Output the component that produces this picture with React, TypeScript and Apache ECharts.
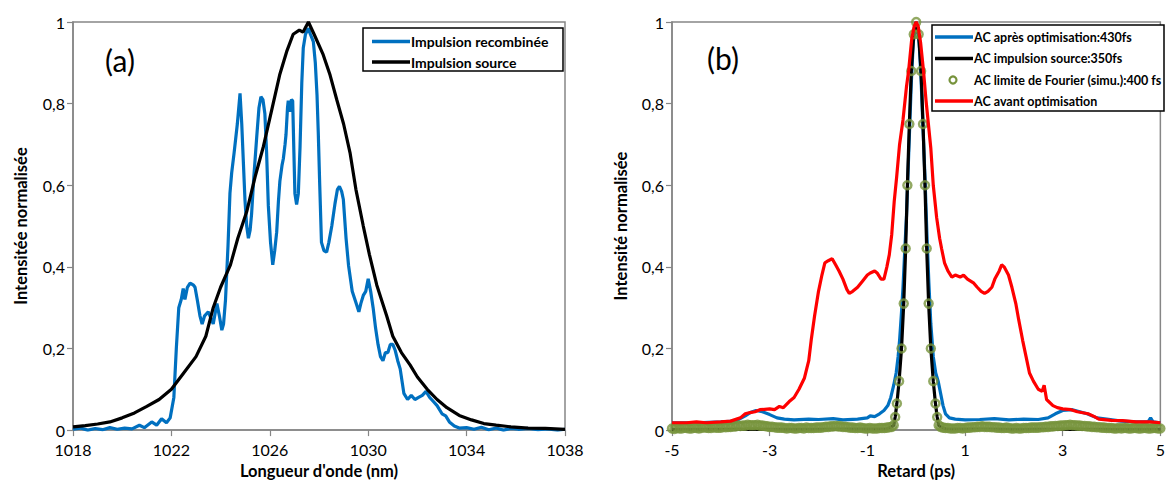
import React, { useEffect, useRef } from "react";
import * as echarts from "echarts";

// ---------- Panel (a): spectra ----------
const WL_MIN = 1018; // nm, left edge of axis (a)
const wlTicks = [1018, 1022, 1026, 1030, 1034, 1038];

// [wavelength nm, normalised intensity]
const impulsionRecombinee: [number, number][] = [
  [1018.0, 0.002], [1018.3, 0.005], [1018.6, 0.0], [1018.9, 0.004], [1019.2, 0.001], [1019.5, 0.006],
  [1019.8, 0.002], [1020.1, 0.005], [1020.4, 0.003], [1020.7, 0.012], [1020.9, 0.006], [1021.2, 0.02],
  [1021.4, 0.012], [1021.6, 0.028], [1021.8, 0.018], [1021.95, 0.03], [1022.1, 0.08], [1022.2, 0.2],
  [1022.3, 0.3], [1022.4, 0.32], [1022.48, 0.347], [1022.55, 0.32], [1022.65, 0.35], [1022.76, 0.36],
  [1022.9, 0.355], [1022.96, 0.35], [1023.05, 0.32], [1023.16, 0.28], [1023.25, 0.26], [1023.35, 0.28],
  [1023.5, 0.29], [1023.6, 0.275], [1023.7, 0.26], [1023.85, 0.31], [1023.95, 0.28], [1024.05, 0.245],
  [1024.12, 0.26], [1024.2, 0.32], [1024.3, 0.45], [1024.38, 0.58], [1024.45, 0.63], [1024.55, 0.68],
  [1024.68, 0.75], [1024.79, 0.825], [1024.86, 0.75], [1024.93, 0.65], [1024.99, 0.565], [1025.06, 0.5],
  [1025.13, 0.47], [1025.2, 0.49], [1025.26, 0.53], [1025.35, 0.62], [1025.47, 0.72], [1025.56, 0.79],
  [1025.64, 0.817], [1025.72, 0.81], [1025.8, 0.775], [1025.87, 0.68], [1025.94, 0.55], [1026.03, 0.46],
  [1026.12, 0.405], [1026.2, 0.44], [1026.28, 0.485], [1026.35, 0.56], [1026.41, 0.61], [1026.5, 0.65],
  [1026.55, 0.665], [1026.62, 0.7], [1026.66, 0.725], [1026.72, 0.79], [1026.75, 0.807], [1026.82, 0.78],
  [1026.88, 0.81], [1026.93, 0.807], [1026.98, 0.68], [1027.02, 0.58], [1027.09, 0.553], [1027.16, 0.58],
  [1027.23, 0.695], [1027.3, 0.85], [1027.36, 0.936], [1027.45, 0.97], [1027.57, 0.985], [1027.65, 0.97],
  [1027.77, 0.952], [1027.85, 0.9], [1027.92, 0.82], [1027.97, 0.73], [1028.03, 0.6], [1028.1, 0.46],
  [1028.2, 0.44], [1028.31, 0.436], [1028.4, 0.46], [1028.52, 0.5], [1028.65, 0.555], [1028.75, 0.59],
  [1028.83, 0.597], [1028.92, 0.585], [1028.99, 0.565], [1029.1, 0.47], [1029.2, 0.404], [1029.35, 0.34],
  [1029.53, 0.307], [1029.62, 0.29], [1029.7, 0.31], [1029.8, 0.33], [1029.9, 0.34], [1030.0, 0.371],
  [1030.1, 0.34], [1030.2, 0.3], [1030.3, 0.25], [1030.4, 0.21], [1030.5, 0.18], [1030.6, 0.17],
  [1030.7, 0.19], [1030.8, 0.19], [1030.9, 0.21], [1031.0, 0.21], [1031.1, 0.195], [1031.2, 0.17],
  [1031.3, 0.15], [1031.45, 0.09], [1031.6, 0.075], [1031.75, 0.085], [1031.9, 0.075], [1032.05, 0.08],
  [1032.2, 0.085], [1032.35, 0.095], [1032.5, 0.08], [1032.65, 0.07], [1032.8, 0.06], [1033.0, 0.04],
  [1033.15, 0.035], [1033.3, 0.02], [1033.5, 0.01], [1033.7, 0.005], [1034.0, 0.006], [1034.3, 0.002],
  [1034.6, 0.007], [1034.9, 0.001], [1035.2, 0.005], [1035.5, 0.0], [1035.8, 0.004], [1036.1, 0.002],
  [1036.5, 0.004], [1036.9, 0.001], [1037.3, 0.003], [1037.7, 0.0], [1038.0, 0.002],
];

const impulsionSource: [number, number][] = [
  [1018.0, 0.008], [1018.5, 0.011], [1019.0, 0.015], [1019.5, 0.02], [1020.0, 0.03], [1020.5, 0.042],
  [1021.0, 0.058], [1021.5, 0.075], [1022.0, 0.1], [1022.5, 0.14], [1023.0, 0.18], [1023.4, 0.23],
  [1023.7, 0.3], [1024.0, 0.35], [1024.4, 0.405], [1024.7, 0.47], [1025.06, 0.535], [1025.4, 0.62],
  [1025.74, 0.695], [1026.1, 0.79], [1026.4, 0.87], [1026.7, 0.93], [1026.95, 0.97], [1027.2, 0.98],
  [1027.35, 0.975], [1027.57, 1.0], [1027.8, 0.97], [1028.17, 0.92], [1028.45, 0.87], [1028.72, 0.81],
  [1029.0, 0.75], [1029.26, 0.68], [1029.5, 0.59], [1029.8, 0.5], [1030.05, 0.43], [1030.35, 0.355],
  [1030.75, 0.28], [1031.0, 0.23], [1031.35, 0.19], [1031.7, 0.16], [1032.0, 0.13], [1032.4, 0.1],
  [1032.8, 0.075], [1033.2, 0.055], [1033.7, 0.036], [1034.2, 0.025], [1034.7, 0.016], [1035.2, 0.012],
  [1035.8, 0.008], [1036.5, 0.005], [1037.2, 0.004], [1038.0, 0.002],
];

// ---------- Panel (b): autocorrelations ----------
const DELAY_MIN = -5; // ps, left edge of axis (b)
const delayTicks = [-5, -3, -1, 1, 3, 5];
const intensityTicks = [0, 0.2, 0.4, 0.6, 0.8, 1];

const acApres: [number, number][] = [
  [-5.0, 0.018], [-4.5, 0.018], [-4.0, 0.02], [-3.7, 0.022], [-3.5, 0.035], [-3.4, 0.043], [-3.28, 0.048],
  [-3.15, 0.045], [-3.0, 0.038], [-2.85, 0.03], [-2.7, 0.027], [-2.5, 0.025], [-2.2, 0.027], [-2.0, 0.026],
  [-1.7, 0.028], [-1.5, 0.025], [-1.2, 0.027], [-1.0, 0.03], [-0.94, 0.035], [-0.85, 0.033], [-0.75, 0.04],
  [-0.66, 0.048], [-0.58, 0.06], [-0.52, 0.08], [-0.46, 0.11], [-0.41, 0.14], [-0.37, 0.18], [-0.34, 0.22],
  [-0.3, 0.29], [-0.27, 0.35], [-0.23, 0.45], [-0.2, 0.52], [-0.17, 0.62], [-0.14, 0.72], [-0.1, 0.85],
  [-0.06, 0.95], [0, 1.0], [0.06, 0.95], [0.1, 0.86], [0.14, 0.74], [0.18, 0.62], [0.22, 0.48], [0.26, 0.36],
  [0.3, 0.26], [0.35, 0.18], [0.4, 0.14], [0.45, 0.12], [0.5, 0.09], [0.55, 0.06], [0.6, 0.04], [0.68, 0.03],
  [0.8, 0.027], [1.0, 0.025], [1.3, 0.026], [1.6, 0.028], [1.9, 0.025], [2.2, 0.027], [2.5, 0.026],
  [2.7, 0.03], [2.85, 0.04], [3.0, 0.048], [3.2, 0.05], [3.35, 0.045], [3.5, 0.04], [3.7, 0.03], [3.9, 0.027],
  [4.2, 0.022], [4.5, 0.02], [4.75, 0.02], [4.8, 0.03], [4.85, 0.02], [5.0, 0.018],
];

const acSource: [number, number][] = [
  [-5.0, 0.002], [-2.0, 0.002], [-0.6, 0.003], [-0.5, 0.008], [-0.46, 0.012], [-0.43, 0.032], [-0.395, 0.065],
  [-0.35, 0.12], [-0.3, 0.2], [-0.255, 0.31], [-0.215, 0.445], [-0.18, 0.6], [-0.14, 0.75], [-0.1, 0.88],
  [-0.05, 0.97], [0, 1.0], [0.05, 0.97], [0.1, 0.88], [0.14, 0.75], [0.18, 0.6], [0.215, 0.445], [0.255, 0.31],
  [0.3, 0.2], [0.35, 0.12], [0.395, 0.065], [0.43, 0.032], [0.46, 0.012], [0.5, 0.008], [0.6, 0.003],
  [2.0, 0.002], [5.0, 0.002],
];

const acFourier: [number, number][] = [
  [-5.0, 0.004], [-4.95, 0.003], [-4.9, 0.005], [-4.85, 0.004], [-4.8, 0.004], [-4.75, 0.006], [-4.7, 0.005],
  [-4.65, 0.004], [-4.6, 0.004], [-4.55, 0.006], [-4.5, 0.005], [-4.45, 0.004], [-4.4, 0.005], [-4.35, 0.007],
  [-4.3, 0.006], [-4.25, 0.005], [-4.2, 0.005], [-4.15, 0.007], [-4.1, 0.006], [-4.05, 0.006], [-4.0, 0.006],
  [-3.95, 0.008], [-3.9, 0.007], [-3.85, 0.008], [-3.8, 0.008], [-3.75, 0.009], [-3.7, 0.009], [-3.65, 0.011],
  [-3.6, 0.01], [-3.55, 0.011], [-3.5, 0.011], [-3.45, 0.013], [-3.4, 0.012], [-3.35, 0.012], [-3.3, 0.012],
  [-3.25, 0.013], [-3.2, 0.011], [-3.15, 0.011], [-3.1, 0.01], [-3.05, 0.009], [-3.0, 0.008], [-2.95, 0.008],
  [-2.9, 0.007], [-2.85, 0.006], [-2.8, 0.006], [-2.75, 0.006], [-2.7, 0.005], [-2.65, 0.004], [-2.6, 0.005],
  [-2.55, 0.005], [-2.5, 0.004], [-2.45, 0.004], [-2.4, 0.005], [-2.35, 0.005], [-2.3, 0.004], [-2.25, 0.006],
  [-2.2, 0.005], [-2.15, 0.005], [-2.1, 0.005], [-2.05, 0.006], [-2.0, 0.006], [-1.95, 0.006], [-1.9, 0.007],
  [-1.85, 0.008], [-1.8, 0.008], [-1.75, 0.009], [-1.7, 0.009], [-1.65, 0.01], [-1.6, 0.009], [-1.55, 0.009],
  [-1.5, 0.008], [-1.45, 0.008], [-1.4, 0.007], [-1.35, 0.006], [-1.3, 0.006], [-1.25, 0.005], [-1.2, 0.005],
  [-1.15, 0.006], [-1.1, 0.005], [-1.05, 0.004], [-1.0, 0.004], [-0.95, 0.005], [-0.9, 0.004], [-0.85, 0.004],
  [-0.8, 0.004], [-0.75, 0.005], [-0.7, 0.005], [-0.65, 0.005], [-0.6, 0.006], [-0.55, 0.007], [-0.5, 0.008],
  [-0.46, 0.012], [-0.43, 0.032], [-0.395, 0.065], [-0.35, 0.12], [-0.3, 0.2], [-0.255, 0.31],
  [-0.215, 0.445], [-0.18, 0.6], [-0.14, 0.75], [-0.1, 0.88], [-0.05, 0.97], [0, 1.0], [0.05, 0.97],
  [0.1, 0.88], [0.14, 0.75], [0.18, 0.6], [0.215, 0.445], [0.255, 0.31], [0.3, 0.2], [0.35, 0.12],
  [0.395, 0.065], [0.43, 0.032], [0.46, 0.012],
  [0.5, 0.008], [0.55, 0.006], [0.6, 0.005], [0.65, 0.005], [0.7, 0.004], [0.75, 0.004], [0.8, 0.004],
  [0.85, 0.005], [0.9, 0.005], [0.95, 0.004], [1.0, 0.005], [1.05, 0.006], [1.1, 0.006], [1.15, 0.007],
  [1.2, 0.007], [1.25, 0.008], [1.3, 0.008], [1.35, 0.009], [1.4, 0.008], [1.45, 0.008], [1.5, 0.008],
  [1.55, 0.007], [1.6, 0.007], [1.65, 0.006], [1.7, 0.006], [1.75, 0.005], [1.8, 0.005], [1.85, 0.006],
  [1.9, 0.005], [1.95, 0.004], [2.0, 0.004], [2.05, 0.005], [2.1, 0.004], [2.15, 0.004], [2.2, 0.005],
  [2.25, 0.005], [2.3, 0.005], [2.35, 0.006], [2.4, 0.006], [2.45, 0.006], [2.5, 0.006], [2.55, 0.007],
  [2.6, 0.007], [2.65, 0.008], [2.7, 0.008], [2.75, 0.009], [2.8, 0.009], [2.85, 0.01], [2.9, 0.01],
  [2.95, 0.011], [3.0, 0.011], [3.05, 0.012], [3.1, 0.012], [3.15, 0.013], [3.2, 0.012], [3.25, 0.012],
  [3.3, 0.011], [3.35, 0.011], [3.4, 0.01], [3.45, 0.01], [3.5, 0.009], [3.55, 0.009], [3.6, 0.008],
  [3.65, 0.008], [3.7, 0.007], [3.75, 0.007], [3.8, 0.006], [3.85, 0.006], [3.9, 0.005], [3.95, 0.005],
  [4.0, 0.005], [4.05, 0.004], [4.1, 0.004], [4.15, 0.005], [4.2, 0.004], [4.25, 0.005], [4.3, 0.005],
  [4.35, 0.004], [4.4, 0.004], [4.45, 0.005], [4.5, 0.005], [4.55, 0.004], [4.6, 0.004], [4.65, 0.005],
  [4.7, 0.005], [4.75, 0.004], [4.8, 0.004], [4.85, 0.005], [4.9, 0.005], [4.95, 0.004], [5.0, 0.004],
];

const acAvant: [number, number][] = [
  [-5.0, 0.018], [-4.7, 0.018], [-4.5, 0.02], [-4.3, 0.018], [-4.0, 0.02], [-3.8, 0.022], [-3.6, 0.03],
  [-3.5, 0.04], [-3.4, 0.043], [-3.3, 0.045], [-3.2, 0.05], [-3.0, 0.052], [-2.9, 0.05], [-2.8, 0.058],
  [-2.72, 0.055], [-2.6, 0.07], [-2.5, 0.08], [-2.4, 0.1], [-2.29, 0.127], [-2.2, 0.17], [-2.15, 0.22],
  [-2.08, 0.28], [-2.0, 0.34], [-1.93, 0.38], [-1.87, 0.41], [-1.8, 0.415], [-1.72, 0.42], [-1.65, 0.405],
  [-1.58, 0.39], [-1.5, 0.37], [-1.42, 0.345], [-1.37, 0.335], [-1.3, 0.34], [-1.2, 0.35], [-1.1, 0.365],
  [-1.0, 0.38], [-0.94, 0.385], [-0.85, 0.39], [-0.8, 0.385], [-0.72, 0.37], [-0.66, 0.37], [-0.6, 0.4],
  [-0.55, 0.43], [-0.5, 0.48], [-0.45, 0.56], [-0.4, 0.62], [-0.34, 0.7], [-0.27, 0.76], [-0.2, 0.84],
  [-0.155, 0.88], [-0.09, 0.96], [-0.04, 0.99], [0, 1.0], [0.04, 0.99], [0.09, 0.95], [0.15, 0.88],
  [0.2, 0.81], [0.25, 0.75], [0.3, 0.69], [0.35, 0.6], [0.42, 0.52], [0.48, 0.47], [0.52, 0.445],
  [0.58, 0.41], [0.65, 0.39], [0.73, 0.375], [0.8, 0.38], [0.9, 0.375], [0.97, 0.38], [1.05, 0.37],
  [1.18, 0.36], [1.25, 0.35], [1.33, 0.34], [1.4, 0.335], [1.47, 0.34], [1.55, 0.35], [1.61, 0.37],
  [1.7, 0.39], [1.75, 0.405], [1.8, 0.4], [1.89, 0.38], [1.96, 0.35], [2.04, 0.31], [2.1, 0.27],
  [2.18, 0.22], [2.25, 0.18], [2.32, 0.14], [2.4, 0.12], [2.5, 0.1], [2.58, 0.095], [2.62, 0.11],
  [2.67, 0.075], [2.8, 0.06], [2.89, 0.055], [3.0, 0.052], [3.17, 0.05], [3.3, 0.045], [3.52, 0.04],
  [3.65, 0.033], [3.74, 0.027], [4.0, 0.024], [4.23, 0.023], [4.5, 0.02], [4.8, 0.02], [5.0, 0.018],
];

const FONT = "Lato, 'Open Sans', sans-serif";
const AXIS_GRAY = "#868686";
const BLUE = "#0070C0";
const OLIVE = "#77933C";
const RED = "#FF0000";

const fmtY = (v: number) => (v === 0 ? "0" : String(+v.toFixed(1)).replace(".", ","));

function xAxisCfg(grid: number, span: number, interval: number, offset: number, name: string, nameGap: number) {
  return {
    gridIndex: grid,
    type: "value",
    min: 0,
    max: span,
    interval,
    axisLine: { show: true, onZero: false, lineStyle: { color: AXIS_GRAY, width: 1.5 } },
    axisTick: { show: true, inside: false, length: 6, lineStyle: { color: AXIS_GRAY, width: 1.2 } },
    axisLabel: {
      formatter: (v: number) => String(Math.round(v + offset)),
      fontSize: 16,
      color: "#000",
      fontFamily: FONT,
      margin: 11,
      showMinLabel: true,
      showMaxLabel: true,
    },
    splitLine: { show: false },
    name,
    nameLocation: "middle",
    nameGap,
    nameTextStyle: { fontSize: 16.5, fontWeight: "bold", color: "#000", fontFamily: FONT },
  };
}

function yAxisCfg(grid: number, name: string, nameGap: number) {
  return {
    gridIndex: grid,
    type: "value",
    min: intensityTicks[0],
    max: intensityTicks[intensityTicks.length - 1],
    interval: 0.2,
    axisLine: { show: true, onZero: false, lineStyle: { color: AXIS_GRAY, width: 1.5 } },
    axisTick: { show: true, inside: false, length: 6, lineStyle: { color: AXIS_GRAY, width: 1.2 } },
    axisLabel: { formatter: fmtY, fontSize: 16, color: "#000", fontFamily: FONT, margin: 8 },
    splitLine: { show: false },
    name,
    nameLocation: "middle",
    nameGap,
    nameRotate: 90,
    nameTextStyle: { fontSize: 16.5, fontWeight: "bold", color: "#000", fontFamily: FONT },
  };
}

const shift = (arr: [number, number][], off: number) => arr.map(([x, y]) => [x - off, y]);

function legendLine(x: number, y: number, color: string, text: string, fs: number) {
  return [
    { type: "line", z: 101, shape: { x1: x, y1: y, x2: x + 38, y2: y }, style: { stroke: color, lineWidth: 3.5 } },
    {
      type: "text",
      z: 101,
      x: x + 39,
      y,
      style: { text, fontSize: fs, fontWeight: "bold", fontFamily: FONT, fill: "#000", align: "left", verticalAlign: "middle" },
    },
  ];
}

export default function App() {
  const ref = useRef<HTMLDivElement>(null);
  useEffect(() => {
    if (!ref.current) return;
    const chart = echarts.init(ref.current, undefined, { renderer: "svg" });
    const lineSeries = (name: string, data: any[], color: string, xi: number, z: number) => ({
      name,
      type: "line",
      xAxisIndex: xi,
      yAxisIndex: xi,
      data,
      showSymbol: false,
      symbol: "none",
      lineStyle: { color, width: 3.2 },
      itemStyle: { color },
      z,
    });
    chart.setOption({
      animation: false,
      backgroundColor: "#fff",
      grid: [
        { left: 73, top: 22, width: 492, height: 413, show: true, borderColor: AXIS_GRAY, borderWidth: 1.5 },
        { left: 672, top: 22, width: 494, height: 413, show: true, borderColor: AXIS_GRAY, borderWidth: 1.5 },
      ],
      xAxis: [
        xAxisCfg(0, wlTicks[wlTicks.length - 1] - WL_MIN, wlTicks[1] - wlTicks[0], WL_MIN, "Longueur d'onde (nm)", 31),
        xAxisCfg(1, delayTicks[delayTicks.length - 1] - DELAY_MIN, delayTicks[1] - delayTicks[0], DELAY_MIN, "Retard (ps)", 30),
      ],
      yAxis: [yAxisCfg(0, "Intensitée normalisée", 44), yAxisCfg(1, "Intensité normalisée", 43)],
      series: [
        lineSeries("Impulsion recombinée", shift(impulsionRecombinee, WL_MIN), BLUE, 0, 2),
        lineSeries("Impulsion source", shift(impulsionSource, WL_MIN), "#000", 0, 3),
        lineSeries("AC après optimisation:430fs", shift(acApres, DELAY_MIN), BLUE, 1, 2),
        lineSeries("AC impulsion source:350fs", shift(acSource, DELAY_MIN), "#000", 1, 3),
        {
          name: "AC limite de Fourier (simu.):400 fs",
          type: "scatter",
          xAxisIndex: 1,
          yAxisIndex: 1,
          data: shift(acFourier, DELAY_MIN),
          symbol: "circle",
          symbolSize: 8,
          itemStyle: { color: "rgba(0,0,0,0)", borderColor: OLIVE, borderWidth: 2.5 },
          z: 4,
        },
        lineSeries("AC avant optimisation", shift(acAvant, DELAY_MIN), RED, 1, 5),
      ],
      graphic: [
        { type: "text", z: 101, x: 120, y: 60, style: { text: "(a)", fontSize: 30, fontFamily: FONT, fill: "#000", align: "center", verticalAlign: "middle" } },
        { type: "text", z: 101, x: 723, y: 58, style: { text: "(b)", fontSize: 30, fontFamily: FONT, fill: "#000", align: "center", verticalAlign: "middle" } },
        { type: "rect", z: 100, shape: { x: 363, y: 28, width: 200, height: 43 }, style: { fill: "#fff", stroke: "#000", lineWidth: 1.5 } },
        ...legendLine(372, 41.5, BLUE, "Impulsion recombinée", 14),
        ...legendLine(372, 62, "#000", "Impulsion source", 14),
        { type: "rect", z: 100, shape: { x: 932, y: 25, width: 232, height: 86 }, style: { fill: "#fff", stroke: "#000", lineWidth: 1.5 } },
        ...legendLine(935, 37, BLUE, "AC après optimisation:430fs", 12.5),
        ...legendLine(935, 58.5, "#000", "AC impulsion source:350fs", 12.5),
        { type: "circle", z: 101, shape: { cx: 953, cy: 80, r: 3.5 }, style: { fill: "none", stroke: OLIVE, lineWidth: 2.2 } },
        {
          type: "text",
          z: 101,
          x: 974,
          y: 80,
          style: { text: "AC limite de Fourier (simu.):400 fs", fontSize: 12.5, fontWeight: "bold", fontFamily: FONT, fill: "#000", align: "left", verticalAlign: "middle" },
        },
        ...legendLine(935, 101, RED, "AC avant optimisation", 12.5),
      ],
    });
    return () => chart.dispose();
  }, []);
  return <div ref={ref} style={{ position: "absolute", left: 0, top: 0, width: 1168, height: 484 }} />;
}
